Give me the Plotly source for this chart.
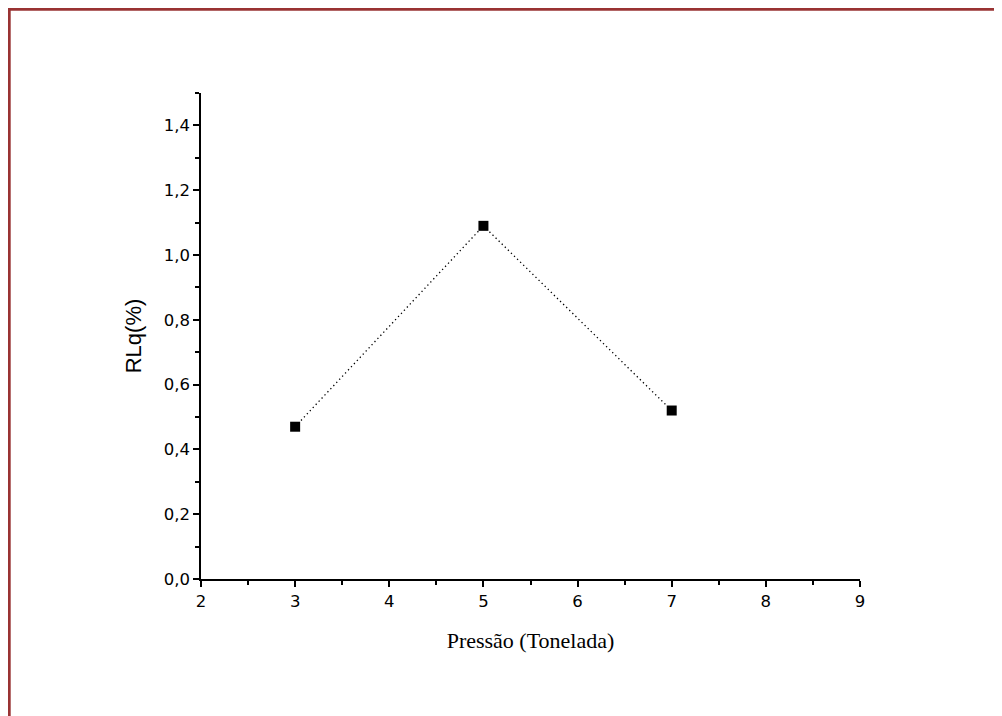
import plotly.graph_objects as go

pressao = [3, 5, 7]
rlq = [0.47, 1.09, 0.52]
x_ticks = [2, 3, 4, 5, 6, 7, 8, 9]
y_ticks = [0.0, 0.2, 0.4, 0.6, 0.8, 1.0, 1.2, 1.4]

fig = go.Figure()
fig.add_trace(go.Scatter(
    x=pressao, y=rlq, mode="lines+markers",
    line=dict(color="black", width=1.3, dash="1.3px,3px"),
    marker=dict(symbol="square", size=10, color="black"),
    showlegend=False,
))

# page body has an 8px margin, so the figure starts at (8, 8)
OFF = 8
W, H = 1002 - OFF, 716 - OFF
L, R, T, B = 201 - OFF, 142, 93 - OFF, 137
pw, ph = W - L - R, H - T - B

def px_to_paper_x(px):
    return (px - OFF - L) / pw

def px_to_paper_y(py):
    return (H - B - (py - OFF)) / ph

border_color = "#993333"
fig.add_shape(type="line", xref="paper", yref="paper",
              x0=px_to_paper_x(7), x1=px_to_paper_x(1020),
              y0=px_to_paper_y(9.2), y1=px_to_paper_y(9.2),
              line=dict(color=border_color, width=3))
fig.add_shape(type="line", xref="paper", yref="paper",
              x0=px_to_paper_x(9.2), x1=px_to_paper_x(9.2),
              y0=px_to_paper_y(8), y1=px_to_paper_y(740),
              line=dict(color=border_color, width=3))

tickfont = dict(family="DejaVu Sans, Verdana, Arial", size=16.5, color="black")

fig.update_layout(
    width=W, height=H,
    margin=dict(l=L, r=R, t=T, b=B, autoexpand=False),
    paper_bgcolor="white", plot_bgcolor="white",
    separators=",.",
    xaxis=dict(
        range=[2, 9], tickvals=x_ticks, ticktext=[str(v) for v in x_ticks],
        showgrid=False, zeroline=False, showline=True, linecolor="black", linewidth=1.5,
        ticks="outside", ticklen=6, tickwidth=1.5, tickcolor="black",
        minor=dict(dtick=0.5, ticks="outside", ticklen=4, tickwidth=1.5, tickcolor="black", showgrid=False),
        tickfont=tickfont,
        title=dict(text="Pressão (Tonelada)", font=dict(family="Liberation Serif, Times New Roman", size=22, color="black"), standoff=23),
    ),
    yaxis=dict(
        range=[0, 1.5], tickvals=y_ticks, ticktext=[f"{v:.1f}".replace(".", ",") for v in y_ticks],
        showgrid=False, zeroline=False, showline=True, linecolor="black", linewidth=1.5,
        ticks="outside", ticklen=6, tickwidth=1.5, tickcolor="black",
        minor=dict(dtick=0.1, ticks="outside", ticklen=4, tickwidth=1.5, tickcolor="black", showgrid=False),
        tickfont=tickfont,
        title=dict(text="RLq(%)", font=dict(family="Liberation Sans, Arial", size=22, color="black"), standoff=16),
    ),
)

fig.write_html("out.html")
